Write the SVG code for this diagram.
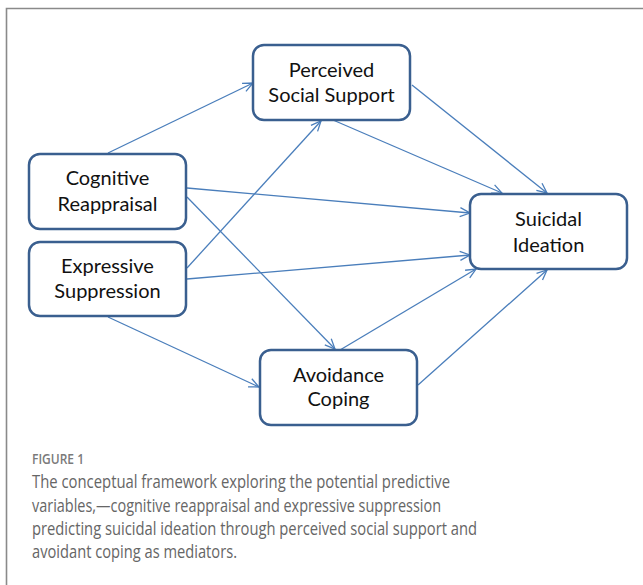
<svg xmlns="http://www.w3.org/2000/svg" width="643" height="585" viewBox="0 0 643 585">
<defs>
<marker id="ah" viewBox="0 0 12 12" refX="11" refY="6" markerWidth="12" markerHeight="12" markerUnits="userSpaceOnUse" orient="auto">
<path d="M1,1.5 L11,6 L1,10.5" fill="none" stroke="#4a7ebb" stroke-width="1.3"/>
</marker>
<style>
.box{fill:#fff;stroke:#3a5f8f;stroke-width:2.5}
.lbl{font-family:Lato,"Liberation Sans",sans-serif;font-size:20px;fill:#111;text-anchor:middle}
.cn{stroke:#4a7ebb;stroke-width:1.3;fill:none;marker-end:url(#ah)}
.cap{font-family:"Open Sans","Liberation Sans",sans-serif;font-size:18px;fill:#666}
</style>
</defs>
<rect width="643" height="585" fill="#fff"/>
<path d="M6.5,585 V8.5 H643" fill="none" stroke="#8a8a8a" stroke-width="1.6"/>
<g id="connectors">
<line class="cn" x1="108" y1="153" x2="253" y2="83"/>
<line class="cn" x1="187" y1="188" x2="470" y2="213"/>
<line class="cn" x1="187" y1="197" x2="335" y2="349"/>
<line class="cn" x1="187" y1="268" x2="321" y2="121"/>
<line class="cn" x1="187" y1="279" x2="470" y2="255"/>
<line class="cn" x1="108" y1="317" x2="259" y2="387"/>
<line class="cn" x1="333" y1="120" x2="502" y2="193"/>
<line class="cn" x1="412" y1="85" x2="547" y2="193"/>
<line class="cn" x1="340" y1="350" x2="476" y2="269"/>
<line class="cn" x1="418" y1="385" x2="547" y2="270"/>
</g>
<g id="perceived-social-support">
<rect class="box" x="253" y="45" width="157" height="75" rx="11"/>
<text class="lbl" x="331.5" y="77">Perceived</text>
<text class="lbl" x="331.5" y="102">Social Support</text>
</g>
<g id="cognitive-reappraisal">
<rect class="box" x="29" y="154" width="157" height="75" rx="11"/>
<text class="lbl" x="107.5" y="185">Cognitive</text>
<text class="lbl" x="107.5" y="211">Reappraisal</text>
</g>
<g id="expressive-suppression">
<rect class="box" x="29" y="242" width="157" height="74" rx="11"/>
<text class="lbl" x="107.5" y="273">Expressive</text>
<text class="lbl" x="107.5" y="298">Suppression</text>
</g>
<g id="suicidal-ideation">
<rect class="box" x="470" y="194" width="157" height="75" rx="11"/>
<text class="lbl" x="548.5" y="226">Suicidal</text>
<text class="lbl" x="548.5" y="252">Ideation</text>
</g>
<g id="avoidance-coping">
<rect class="box" x="260" y="350" width="157" height="75" rx="11"/>
<text class="lbl" x="338.5" y="382">Avoidance</text>
<text class="lbl" x="338.5" y="406">Coping</text>
</g>
<g id="caption">
<text x="32" y="464" font-family="'Open Sans','Liberation Sans',sans-serif" font-size="14" font-weight="600" fill="#7a7a7a" textLength="52" lengthAdjust="spacingAndGlyphs">FIGURE 1</text>
<text class="cap" x="32" y="488" textLength="418" lengthAdjust="spacingAndGlyphs">The conceptual framework exploring the potential predictive</text>
<text class="cap" x="32" y="512" textLength="409" lengthAdjust="spacingAndGlyphs">variables,—cognitive reappraisal and expressive suppression</text>
<text class="cap" x="32" y="535" textLength="445" lengthAdjust="spacingAndGlyphs">predicting suicidal ideation through perceived social support and</text>
<text class="cap" x="32" y="558" textLength="205" lengthAdjust="spacingAndGlyphs">avoidant coping as mediators.</text>
</g>
</svg>
